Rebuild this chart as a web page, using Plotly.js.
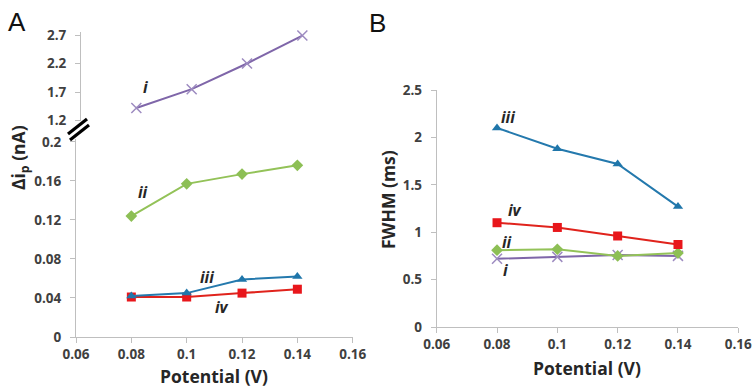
<!DOCTYPE html>
<html>
<head>
<meta charset="utf-8">
<script src="https://cdn.plot.ly/plotly-3.0.1.min.js"></script>
<style>html,body{margin:0;padding:0;background:#fff;}#chart{width:755px;height:387px;}</style>
</head>
<body>
<div id="chart"></div>
<script>
// ---- data ----
const potential = [0.08, 0.10, 0.12, 0.14];
// Panel A: delta i_p (nA)
const dipI   = [1.42, 1.75, 2.20, 2.69];
const dipII  = [0.124, 0.157, 0.167, 0.176];
const dipIII = [0.042, 0.045, 0.059, 0.062];
const dipIV  = [0.041, 0.041, 0.045, 0.049];
// Panel B: FWHM (ms)
const fwhmI   = [0.72, 0.74, 0.76, 0.75];
const fwhmII  = [0.81, 0.82, 0.75, 0.78];
const fwhmIII = [2.10, 1.88, 1.72, 1.27];
const fwhmIV  = [1.10, 1.05, 0.96, 0.87];
// ticks
const xTicks = [0.06, 0.08, 0.10, 0.12, 0.14, 0.16];
const xTickText = ['0.06', '0.08', '0.1', '0.12', '0.14', '0.16'];
const yALowTicks = [0, 0.04, 0.08, 0.12, 0.16, 0.2];
const yALowText = ['0', '0.04', '0.08', '0.12', '0.16', '0.2'];
const yAHighTicks = [1.2, 1.7, 2.2, 2.7];
const yAHighText = ['1.2', '1.7', '2.2', '2.7'];
const yBTicks = [0, 0.5, 1, 1.5, 2, 2.5];
const yBText = ['0', '0.5', '1', '1.5', '2', '2.5'];

const W = 755, H = 387;
const px = v => v / W;
const py = v => 1 - v / H;

const col = {
  i:   {line: '#7F66A9', mark: '#9D8BC0', sym: 'x-thin-open'},
  ii:  {line: '#93C258', mark: '#8DBF55', sym: 'diamond'},
  iii: {line: '#2479AD', mark: '#1F76AA', sym: 'triangle-up'},
  iv:  {line: '#E0231C', mark: '#E8161B', sym: 'square'}
};

function tr(x, y, key, xa, ya) {
  const c = col[key];
  const m = c.sym === 'x-thin-open'
    ? {symbol: c.sym, size: 10, color: c.mark, line: {color: c.mark, width: 1.5}}
    : {symbol: c.sym, size: key === 'iv' ? 9 : 9, color: c.mark, line: {width: 0}};
  return {x: x, y: y, type: 'scatter', mode: 'lines+markers', name: key,
    xaxis: xa, yaxis: ya, line: {color: c.line, width: 2}, marker: m,
    showlegend: false, cliponaxis: false, hoverinfo: 'skip'};
}

const data = [
  tr(potential, dipI, 'i', 'x2', 'y2'),
  tr(potential, dipII, 'ii', 'x', 'y'),
  tr(potential, dipIV, 'iv', 'x', 'y'),
  tr(potential, dipIII, 'iii', 'x', 'y'),
  tr(potential, fwhmI, 'i', 'x3', 'y3'),
  tr(potential, fwhmII, 'ii', 'x3', 'y3'),
  tr(potential, fwhmIV, 'iv', 'x3', 'y3'),
  tr(potential, fwhmIII, 'iii', 'x3', 'y3')
];

const tickFont = {family: 'Open Sans, Liberation Sans, sans-serif', size: 13.5, color: '#404040', weight: 'bold'};
const axLine = '#BFBFBF';

function xAxis(domain, anchor, visible) {
  return {domain: domain, anchor: anchor, range: [0.06, 0.16], tickvals: xTicks, ticktext: xTickText,
    showline: visible, linecolor: axLine, linewidth: 1, ticks: visible ? 'outside' : '', ticklen: 5,
    tickcolor: axLine, showgrid: false, zeroline: false, showticklabels: visible, tickfont: tickFont,
    visible: visible, fixedrange: true};
}
function yAxis(domain, anchor, range, tv, tt) {
  return {domain: domain, anchor: anchor, range: range, tickvals: tv, ticktext: tt,
    showline: true, linecolor: axLine, linewidth: 1, ticks: 'outside', ticklen: 5, tickcolor: axLine,
    showgrid: false, zeroline: false, tickfont: tickFont, ticklabelstandoff: 6, fixedrange: true};
}

const titleFont = {family: 'Open Sans, Liberation Sans, sans-serif', size: 17.5, color: '#262626', weight: 'bold'};
const romanFont = {family: 'Open Sans, Liberation Sans, sans-serif', size: 15.5, color: '#262626', weight: 'bold', style: 'italic'};

function lab(text, x, y, xref, yref) {
  return {text: text, x: x, y: y, xref: xref, yref: yref, showarrow: false, font: romanFont,
    xanchor: 'center', yanchor: 'middle'};
}

const layout = {
  width: W, height: H,
  margin: {l: 0, r: 0, t: 0, b: 0},
  paper_bgcolor: '#ffffff', plot_bgcolor: 'rgba(0,0,0,0)',
  showlegend: false,
  xaxis: xAxis([px(76), px(352.7)], 'y', true),
  yaxis: yAxis([py(337), py(139)], 'x', [0, 0.203], yALowTicks, yALowText),
  xaxis2: xAxis([px(81), px(357.7)], 'y2', false),
  yaxis2: yAxis([py(120.5), py(31.6)], 'x2', [1.2, 2.76], yAHighTicks, yAHighText),
  xaxis3: xAxis([px(436.7), px(738.3)], 'y3', true),
  yaxis3: yAxis([py(327), py(90)], 'x3', [0, 2.5], yBTicks, yBText),
  annotations: [
    {text: 'A', x: px(16.5), y: py(22), xref: 'paper', yref: 'paper', showarrow: false,
      font: {family: 'Liberation Sans, sans-serif', size: 26, color: '#111'}, xanchor: 'center', yanchor: 'middle'},
    {text: 'B', x: px(377), y: py(23), xref: 'paper', yref: 'paper', showarrow: false,
      font: {family: 'Liberation Sans, sans-serif', size: 26, color: '#111'}, xanchor: 'center', yanchor: 'middle'},
    {text: 'Potential (V)', x: px(214), y: py(376), xref: 'paper', yref: 'paper', showarrow: false,
      font: titleFont, xanchor: 'center', yanchor: 'middle'},
    {text: 'Potential (V)', x: px(587), y: py(368), xref: 'paper', yref: 'paper', showarrow: false,
      font: titleFont, xanchor: 'center', yanchor: 'middle'},
    {text: '\u0394i<sub>p</sub> (nA)', x: px(19), y: py(158), xref: 'paper', yref: 'paper', showarrow: false,
      font: titleFont, textangle: -90, xanchor: 'center', yanchor: 'middle'},
    {text: 'FWHM (ms)', x: px(388), y: py(200), xref: 'paper', yref: 'paper', showarrow: false,
      font: titleFont, textangle: -90, xanchor: 'center', yanchor: 'middle'},
    lab('i', 0.0833, 1.78, 'x2', 'y2'),
    lab('ii', 0.0842, 0.149, 'x', 'y'),
    lab('iii', 0.1073, 0.0615, 'x', 'y'),
    lab('iv', 0.1128, 0.031, 'x', 'y'),
    lab('iii', 0.0836, 2.22, 'x3', 'y3'),
    lab('iv', 0.086, 1.23, 'x3', 'y3'),
    lab('ii', 0.0833, 0.90, 'x3', 'y3'),
    lab('i', 0.0827, 0.60, 'x3', 'y3')
  ],
  shapes: [
    {type: 'line', xref: 'paper', yref: 'paper', x0: px(68), y0: py(134), x1: px(87), y1: py(119),
      line: {color: '#000', width: 3.2}},
    {type: 'line', xref: 'paper', yref: 'paper', x0: px(70), y0: py(140), x1: px(89), y1: py(125),
      line: {color: '#000', width: 3.2}}
  ]
};

Plotly.newPlot('chart', data, layout, {displayModeBar: false, staticPlot: true});
</script>
</body>
</html>
